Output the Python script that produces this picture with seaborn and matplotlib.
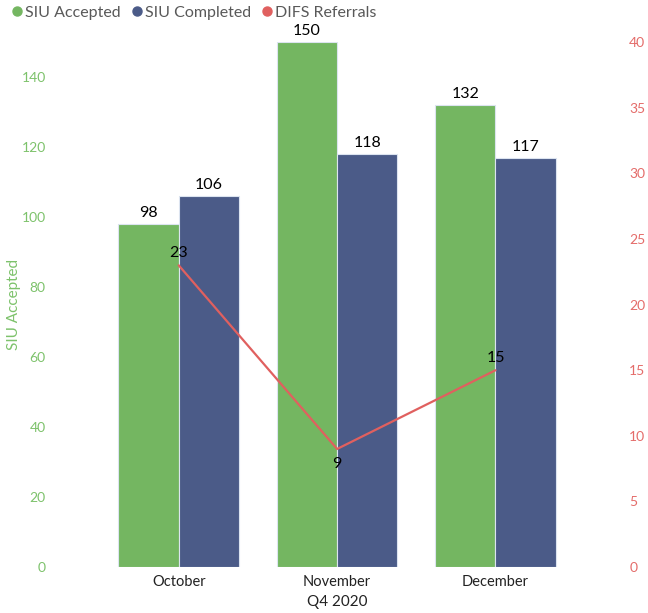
import matplotlib
matplotlib.use("Agg")
import matplotlib.pyplot as plt
import seaborn as sns
import pandas as pd
from matplotlib.lines import Line2D

months = ["October", "November", "December"]
siu_accepted = [98, 150, 132]
siu_completed = [106, 118, 117]
difs_referrals = [23, 9, 15]
left_ticks = [0, 20, 40, 60, 80, 100, 120, 140]
right_ticks = [0, 5, 10, 15, 20, 25, 30, 35, 40]

GREEN = "#74B661"
BLUE = "#4B5B88"
RED = "#E0605F"
GREEN_TXT = "#7DC26B"
RED_TXT = "#E46C6A"

sns.set_theme(style="white")
plt.rcParams["font.family"] = ["Lato", "DejaVu Sans"]

df = pd.DataFrame({
    "Month": months * 2,
    "Value": siu_accepted + siu_completed,
    "Series": ["SIU Accepted"] * 3 + ["SIU Completed"] * 3,
})
line_df = pd.DataFrame({"Month": months, "DIFS": difs_referrals})

fig = plt.figure(figsize=(6.48, 6.13), dpi=100)
ax = fig.add_axes([0.0802, 0.075, 0.88, 0.856])

sns.barplot(data=df, x="Month", y="Value", hue="Series", order=months,
            palette=[GREEN, BLUE], width=0.76, ax=ax, legend=False,
            edgecolor="#DCE4F0", linewidth=0.8, saturation=1)
for cont in ax.containers:
    ax.bar_label(cont, fontsize=11.5, color="black", padding=3)

ax.set_ylim(0, 150)
ax.set_xlim(-0.8, 2.8)
ax.set_yticks(left_ticks)
ax.tick_params(axis="y", colors=GREEN_TXT, labelsize=10, length=0, pad=4.5)
ax.tick_params(axis="x", colors="#222222", labelsize=10.5, length=0, pad=6)
ax.set_ylabel("SIU Accepted", color=GREEN_TXT, fontsize=11, labelpad=0.5)
ax.set_xlabel("Q4 2020", color="#222222", fontsize=11, labelpad=4)
for s in ax.spines.values():
    s.set_visible(False)

ax2 = ax.twinx()
sns.lineplot(data=line_df, x="Month", y="DIFS", color=RED, linewidth=1.6,
             ax=ax2, sort=False)
ax2.set_ylim(0, 40)
ax2.set_yticks(right_ticks)
ax2.tick_params(axis="y", colors=RED_TXT, labelsize=10, length=0, pad=5)
ax2.set_ylabel("")
for s in ax2.spines.values():
    s.set_visible(False)
ax2.grid(False)

offsets = [(0, 4, "bottom"), (0, -6, "top"), (0, 4, "bottom")]
for i, (v, (dx, dy, va)) in enumerate(zip(difs_referrals, offsets)):
    ax2.annotate(str(v), (i, v), xytext=(dx, dy), textcoords="offset points",
                 ha="center", va=va, fontsize=11.5, color="black")

handles = [Line2D([], [], marker="o", linestyle="", color=c, markersize=6.5)
           for c in (GREEN, BLUE, RED)]
fig.legend(handles, ["SIU Accepted", "SIU Completed", "DIFS Referrals"],
           loc="upper left", bbox_to_anchor=(-0.008, 1.014), ncol=3,
           frameon=False, fontsize=11.5, handletextpad=0.0,
           columnspacing=0.5, labelcolor="#595959", handlelength=1.0)

fig.savefig("out.png", dpi=100)
